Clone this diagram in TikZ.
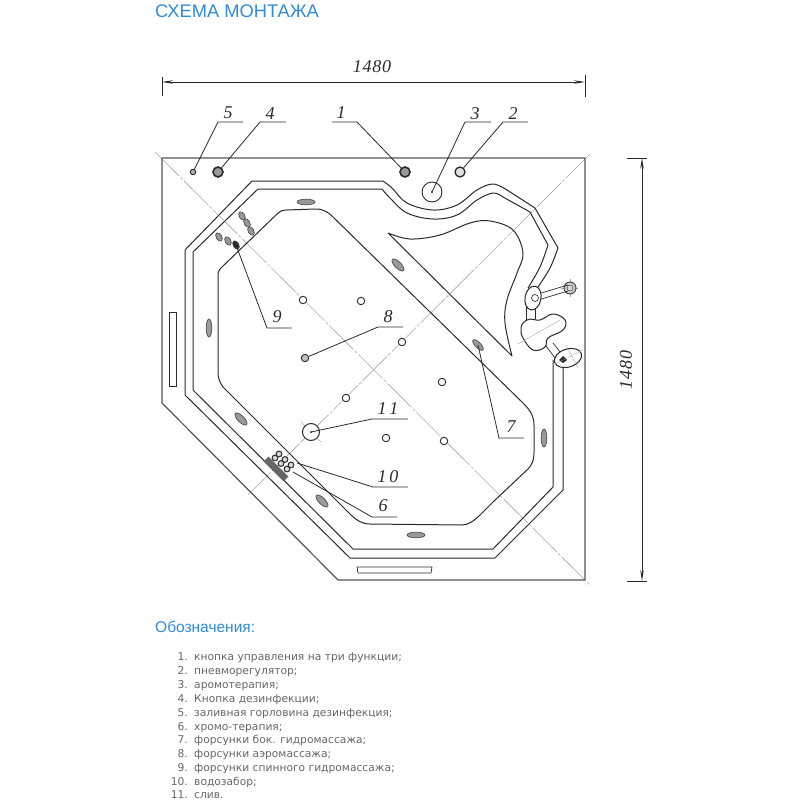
\documentclass[tikz,border=0pt]{standalone}
\usepackage{fontspec}
\setmainfont{Liberation Sans}
\newfontfamily\dimfont[LetterSpace=4]{Liberation Serif}
\newfontfamily\listfont{DejaVu Sans}
\usetikzlibrary{arrows.meta}
\definecolor{titleblue}{HTML}{2F8BDC}
\definecolor{listgray}{HTML}{666666}
\definecolor{cline}{HTML}{A8A8A8}
\definecolor{ink}{HTML}{2A2A2A}
\tikzset{
  x=1pt,y=-1pt,
  body/.style={draw=ink,line width=1pt,line join=round},
  wall/.style={draw=ink!80,line width=1.2pt,line join=round},
  thin part/.style={draw=ink,line width=0.7pt},
  center line/.style={draw=cline,line width=0.6pt,dash pattern=on 34pt off 2pt on 3pt off 2pt},
  cross/.style={draw=cline,line width=0.4pt},
  leader/.style={draw=ink,line width=0.8pt},
  callout/.style={font=\dimfont\itshape\fontsize{18}{18}\selectfont,text=ink,inner sep=0pt},
  jet/.style={draw=ink!85,fill=black!40,line width=0.7pt},
  airjet/.style={draw=ink,fill=white,line width=0.9pt,circle,minimum size=7.5pt,inner sep=0pt},
  dimline/.style={draw=ink,line width=0.8pt,{Stealth[length=11pt,width=3.5pt]}-{Stealth[length=11pt,width=3.5pt]}},
  legend row/.style={font=\listfont\fontsize{10.7}{12}\selectfont,text=listgray,inner sep=0pt,anchor=base west},
  legend num/.style={font=\listfont\fontsize{10.7}{12}\selectfont,text=listgray,inner sep=0pt,anchor=base east},
}
\begin{document}
\begin{tikzpicture}
\useasboundingbox (0,0) rectangle (800,800);
% title
\node[font=\fontsize{18.3}{19}\selectfont,text=titleblue,inner sep=0pt,anchor=west] (title) at (155,11.5) {СХЕМА МОНТАЖА};
% centre lines
\draw[center line] (155,152) -- (590,585);
\draw[center line] (590,154) -- (248,495);
% outer frame
\draw[wall] (162,158) -- (585,158) -- (585,580) -- (338,580) -- (162,403) -- cycle;
% rim outer
\draw[body] (563,360) -- (563,490) -- (495,558) -- (350,558) -- (185,395) -- (185,250) -- (252,181) -- (383,181)
  plot[smooth,tension=0.6] coordinates {(383,181) (392,188) (407,203) (433,210) (457,205) (477,190) (493,184) (507,190)}
  -- (535,208) -- (558,248) plot[smooth,tension=0.6] coordinates {(558,248) (550,268) (538,287)};
% rim inner
\draw[body] (553,360) -- (553,487) -- (493,549) -- (353,549) -- (193,390) -- (193,252) -- (258,189) -- (382,189)
  plot[smooth,tension=0.6] coordinates {(382,189) (390,198) (407,213) (433,219) (457,215) (477,200) (493,193) (503,197)}
  -- (530,212) -- (548,245) plot[smooth,tension=0.6] coordinates {(548,245) (540,267) (528,288)};
% inner basin
\draw[body] (218,283) -- (218,273) .. controls (219,270) and (220,269) .. (223,266) -- (275,216)
  .. controls (278,213) and (281,210) .. (286,210) -- (316,209)
  .. controls (324,209) and (329,213) .. (333,217) -- (523,403)
  .. controls (530,410) and (534,416) .. (534,425) -- (534,453)
  .. controls (534,460) and (532,465) .. (528,469) -- (493,502) -- (480,515)
  .. controls (474,521) and (468,525) .. (462,525) -- (370,524)
  .. controls (362,524) and (356,520) .. (351,515) -- (223,387)
  .. controls (220,383) and (218,378) .. (218,373) -- cycle;
% seat
\draw[body] (388,233) plot[smooth,tension=0.6] coordinates {(388,233) (410,239) (440,235) (470,223) (490,221) (513,230) (523,253) (517,273) (507,300) (505,323) (512,356)} -- (388,233);
% strip recesses
\draw[thin part] (169,386) -- (169,312) -- (176,312) -- (176,386) -- cycle;
\draw[thin part] (357,567) -- (432,567) -- (431,573) -- (358,573) -- cycle;
% body jets
\draw[jet] (306,202) ellipse [x radius=9,y radius=2.8];
\draw[jet,rotate around={-45:(398,265)}] (398,265) ellipse [x radius=8,y radius=3.2];
\draw[jet] (209,328) ellipse [x radius=2.8,y radius=9];
\draw[jet,rotate around={-45:(241,419)}] (241,419) ellipse [x radius=8,y radius=3.2];
\draw[jet,rotate around={-45:(322,501)}] (322,501) ellipse [x radius=8,y radius=3.2];
\draw[jet] (416,535) ellipse [x radius=9,y radius=2.8];
\draw[jet] (544,438) ellipse [x radius=2.8,y radius=9];
\draw[jet,rotate around={-45:(478,345)}] (478,345) ellipse [x radius=7,y radius=2.8];
% back jets
\foreach \p in {(242,216),(247,223),(251,231),(219,237),(228,241)}
  \draw[jet,rotate around={-60:\p}] \p ellipse [x radius=4.6,y radius=2.8];
\draw[jet,fill=ink,rotate around={-60:(236,245)}] (236,245) ellipse [x radius=4.6,y radius=2.8];
% deck controls
\node[circle,draw=ink,fill=black!30,line width=0.9pt,minimum size=5.5pt,inner sep=0pt] (c5) at (193,172) {};
\node[circle,draw=ink,fill=black!40,line width=1.6pt,minimum size=10pt,inner sep=0pt] (c4) at (218,172) {};
\node[circle,draw=ink,fill=black!40,line width=1.6pt,minimum size=10pt,inner sep=0pt] (c1) at (405,172) {};
\node[circle,draw=ink,fill=black!12,line width=1.3pt,minimum size=10pt,inner sep=0pt] (c2) at (460,172) {};
\node[circle,draw=ink,fill=white,line width=0.9pt,minimum size=20pt,inner sep=0pt] (c3) at (432,192) {};
\fill[ink] (c3.center) circle (1.2);
% air jets
\node[airjet] (a1) at (303,300) {};
\node[airjet] (a2) at (361,301) {};
\node[airjet] (a3) at (402,342) {};
\node[airjet] (a4) at (442,382) {};
\node[airjet] (a5) at (346,398) {};
\node[airjet] (a6) at (386,438) {};
\node[airjet] (a7) at (444,441) {};
\node[airjet,fill=black!25] (a8) at (305,358) {};
% drain
\node[circle,draw=ink,fill=white,line width=1pt,minimum size=17pt,inner sep=0pt] (drain) at (311,432) {};
\fill[ink] (drain.center) circle (1);
\draw[cross] (301,422) -- (305,426) (317,438) -- (321,442) (321,422) -- (317,426) (305,438) -- (301,442);
% chromo + water intake
\fill[black!60,rotate around={-45:(276,469)}] (262,465.5) rectangle (290,472.5);
\foreach \p in {(275,458),(281,463.5),(287,469),(279,454),(285,459.5),(291,465)}
  \draw[ink,line width=1pt,fill=black!15] \p circle (2.9);
% faucet group
\draw[cross] (561,288) -- (578,288) (570,279) -- (570,297);
\draw[ink,line width=0.8pt,fill=black!20] (570,288) circle (6);
\draw[ink,fill=black!15,line width=0.4pt] (570,288) circle (3);
\draw[thin part] (538,294) -- (568,285) (538,300) -- (568,291);
\draw[thin part] (526,294) -- (526,320) (535,308) -- (535,319);
\draw[body,fill=white,rotate around={-10:(533,298)}] (533,298) ellipse [x radius=8,y radius=12];
\draw[ink,line width=0.6pt,fill=white] (535,298) circle (3.5);
\draw[body,fill=white] plot[smooth cycle,tension=0.7] coordinates {(523,323) (530,319) (540,320) (553,314) (565,320) (563,330) (548,338) (545,347) (533,350) (523,338) (521,329)};
\draw[cross] (518,344) -- (560,320);
\draw[thin part] (546,346) -- (555,358) (553,343) -- (561,353);
\draw[body,fill=white,rotate around={18:(568,358)}] (568,358) ellipse [x radius=14,y radius=9];
\fill[ink] (559,360) -- (563,356) -- (567,360) -- (563,363) -- cycle;
\draw[cross] (553,365) -- (583,350) (566,345) -- (578,368);
% dimensions
\coordinate (dh1) at (162,82); \coordinate (dh2) at (585,82);
\coordinate (dv1) at (642,158); \coordinate (dv2) at (642,581);
\draw[dimline] (dh1) -- (dh2);
\draw[dimline] (dv1) -- (dv2);
\draw[leader] (162,77) -- (162,96) (585,75) -- (585,97);
\draw[leader] (627,158) -- (647,158) (627,581) -- (647,581);
\node[callout] (dimh) at (372,67) {1480};
\node[callout,rotate=90] (dimv) at (626,370) {1480};
% callouts: top row
\node[callout] (n5) at (228,113) {5};
\node[callout] (n4) at (270,114) {4};
\node[callout] (n1) at (341,113) {1};
\node[callout] (n3) at (475,114) {3};
\node[callout] (n2) at (513,114) {2};
\draw[leader] (243,122) -- (218,122) -- (c5);
\draw[leader] (286,122) -- (260,122) -- (c4);
\draw[leader] (332,122) -- (357,122) -- (c1);
\draw[leader] (491,122) -- (465,122) -- (c3.center);
\draw[leader] (528,122) -- (503,122) -- (c2);
% callouts: interior
\coordinate (e9) at (236,245); \coordinate (e7) at (478,345);
\coordinate (e10) at (297,463); \coordinate (e6) at (293,472);
\node[callout] (n9) at (277,317) {9};
\node[callout] (n8) at (388,317) {8};
\node[callout] (n7) at (511,427) {7};
\node[callout] (n11) at (388,409) {1\,1};
\node[callout] (n10) at (388,477) {1\,0};
\node[callout] (n6) at (383,506) {6};
\draw[leader] (292,328) -- (267,328) -- (e9);
\draw[leader] (403,327) -- (378,327) -- (a8);
\draw[leader] (524,438) -- (499,438) -- (e7);
\draw[leader] (408,419) -- (372,419) -- (drain.center);
\draw[leader] (408,487) -- (373,487) -- (e10);
\draw[leader] (397,517) -- (372,517) -- (e6);
% legend
\node[font=\fontsize{15.5}{16}\selectfont,text=titleblue,inner sep=0pt,anchor=west] (lgd) at (155,627) {Обозначения:};
\foreach \y/\n/\t in {
  660/1./{кнопка управления на три функции;},
  674/2./{пневморегулятор;},
  688/3./{аромотерапия;},
  702/4./{Кнопка дезинфекции;},
  716/5./{заливная горловина дезинфекция;},
  730/6./{хромо-терапия;},
  743/7./{форсунки бок. гидромассажа;},
  757/8./{форсунки аэромассажа;},
  771/9./{форсунки спинного гидромассажа;},
  785/10./{водозабор;},
  798/11./{слив.}}{
  \node[legend num] at (188,\y) {\n};
  \node[legend row] at (194,\y) {\t};
}
\end{tikzpicture}
\end{document}
